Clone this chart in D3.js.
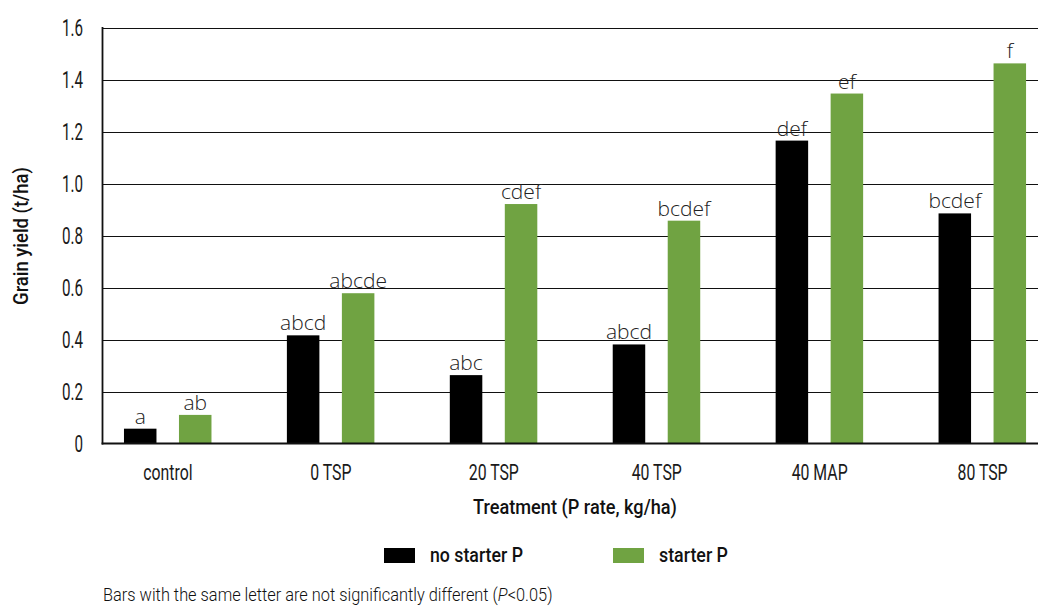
<!DOCTYPE html>
<html><head><meta charset="utf-8">
<script src="https://cdn.jsdelivr.net/npm/d3@7"></script>
<style>
body{margin:0;background:#fff;}
svg{display:block;}
.cond{font-family:Roboto,"Liberation Sans",sans-serif;}
</style></head>
<body><svg id="c" width="1038" height="606"></svg>
<script>
const categories = ["control","0 TSP","20 TSP","40 TSP","40 MAP","80 TSP"];
const seriesNames = ["no starter P","starter P"];
const noStarter = [0.057,0.416,0.263,0.381,1.165,0.885];
const starter   = [0.110,0.578,0.921,0.857,1.346,1.462];
const noStarterLetters = ["a","abcd","abc","abcd","def","bcdef"];
const starterLetters   = ["ab","abcde","cdef","bcdef","ef","f"];
const yTickValues = [0,0.2,0.4,0.6,0.8,1.0,1.2,1.4,1.6];
const yTickLabels = ["0","0.2","0.4","0.6","0.8","1.0","1.2","1.4","1.6"];
const colors = ["#000000","#70a342"];

const svg = d3.select("#c");
const plotLeft = 102.5, plotRight = 1038, y0 = 443.5, yTop = 27.5;
const x = d3.scaleBand().domain(categories).range([86.5,1064]).padding(0);
const xs = d3.scaleBand().domain(seriesNames).range([x.bandwidth()*0.23, x.bandwidth()*0.23+87.5]).paddingInner(0.409).paddingOuter(0);
const y = d3.scaleLinear().domain([0,1.6]).range([y0,yTop]);

function ctext(parent, px, py, str, opt){
  const t = parent.append("text").attr("class","cond")
    .attr("x",0).attr("y",0)
    .attr("text-anchor",opt.anchor||"start")
    .style("font-size",opt.size+"px").style("font-weight",opt.weight||400)
    .attr("fill",opt.fill||"#222");
  if (Array.isArray(str)) str.forEach(s=>{const sp=t.append("tspan").text(s.t); if(s.italic) sp.style("font-style","italic");});
  else t.text(str);
  let sx = opt.sx||0.72;
  if (opt.width){ sx = opt.width / t.node().getComputedTextLength(); }
  const rot = opt.rotate ? ` rotate(${opt.rotate})` : "";
  t.attr("transform",`translate(${px},${py})${rot} scale(${sx},1)`);
  return t;
}

// gridlines
svg.append("g").selectAll("line").data(yTickValues.filter(v=>v>0)).join("line")
  .attr("x1",plotLeft).attr("x2",plotRight)
  .attr("y1",d=>Math.round(y(d))+0.5).attr("y2",d=>Math.round(y(d))+0.5)
  .attr("stroke","#111").attr("stroke-width",1.2);

// y tick labels
const yl = svg.append("g");
yTickValues.forEach((v,i)=>ctext(yl, 83, y(v)+8, yTickLabels[i], {anchor:"end", size:23, weight:400, sx:0.66, fill:"#1a1a1a"}));

// bars
const data = categories.map((c,i)=>({c, vals:[{s:seriesNames[0],v:noStarter[i],l:noStarterLetters[i]},{s:seriesNames[1],v:starter[i],l:starterLetters[i]}]}));
const grp = svg.append("g").selectAll("g").data(data).join("g").attr("transform",d=>`translate(${x(d.c)},0)`);
grp.selectAll("rect").data(d=>d.vals).join("rect")
  .attr("x",d=>xs(d.s)).attr("width",xs.bandwidth())
  .attr("y",d=>y(d.v)).attr("height",d=>y0-y(d.v))
  .attr("fill",(d,i)=>colors[i]);
grp.selectAll("text").data(d=>d.vals).join("text")
  .attr("x",d=>xs(d.s)+xs.bandwidth()/2).attr("y",d=>y(d.v)-5)
  .attr("text-anchor","middle")
  .style("font-family","'Open Sans',sans-serif").style("font-weight","300").style("font-size","21px")
  .attr("fill","#222").text(d=>d.l);

// axes lines
svg.append("line").attr("x1",plotLeft).attr("x2",plotLeft).attr("y1",yTop-0.5).attr("y2",y0+1)
  .attr("stroke","#111").attr("stroke-width",1.8);
svg.append("line").attr("x1",plotLeft-0.9).attr("x2",plotRight).attr("y1",y0).attr("y2",y0)
  .attr("stroke","#111").attr("stroke-width",1.8);

// x category labels
const xl = svg.append("g");
categories.forEach(c=>ctext(xl, x(c)+x.bandwidth()/2, 480, c, {anchor:"middle", size:22, weight:400, sx:0.72, fill:"#1a1a1a"}));

// axis titles
ctext(svg, 28, 236, "Grain yield (t/ha)", {anchor:"middle", size:21, weight:500, fill:"#111", rotate:-90, width:138});
ctext(svg, 575, 514, "Treatment (P rate, kg/ha)", {anchor:"middle", size:21, weight:500, fill:"#111", width:204});

// legend
const legX = [384,613], legW = [93,69];
seriesNames.forEach((s,i)=>{
  svg.append("rect").attr("x",legX[i]).attr("y",548).attr("width",31).attr("height",15).attr("fill",colors[i]);
  ctext(svg, legX[i]+46, 562, s, {size:21, weight:500, fill:"#111", width:legW[i]});
});

// footnote
ctext(svg, 103, 601, [{t:"Bars with the same letter are not significantly different ("},{t:"P",italic:true},{t:"<0.05)"}],
  {size:19, weight:300, fill:"#111", width:450});
</script></body></html>
